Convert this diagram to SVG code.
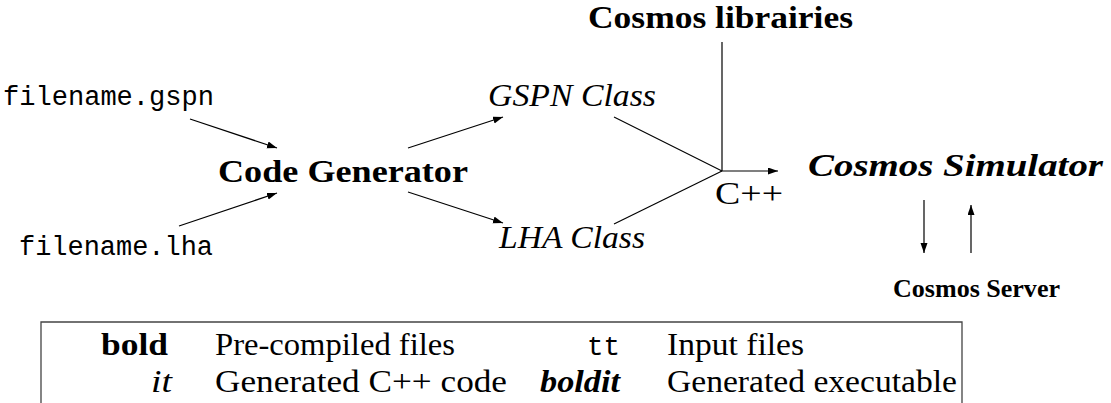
<svg xmlns="http://www.w3.org/2000/svg" width="1111" height="403" viewBox="0 0 1111 403">
<defs>
<marker id="arr" markerUnits="userSpaceOnUse" markerWidth="11" markerHeight="8" refX="10" refY="3.5" orient="auto">
<path d="M0,0 L10,3.5 L0,7 z" fill="#000"/>
</marker>
<style>
text{font-family:"Liberation Serif","Times New Roman",serif;font-size:32px;fill:#000}
.b{font-weight:bold}
.i{font-style:italic}
.bi{font-weight:bold;font-style:italic}
.tt{font-family:"Liberation Mono","Courier New",monospace;font-size:27px}
.e{text-anchor:end}
.ln{stroke:#000;stroke-width:1.2;fill:none}
.ar{stroke:#000;stroke-width:1.2;fill:none;marker-end:url(#arr)}
.bx{stroke:#444;stroke-width:1.3;fill:none}
</style>
</defs>
<rect width="1111" height="403" fill="#fff"/>
<g id="connectors">
<path class="ar" d="M190,119 L277,148"/>
<path class="ar" d="M179,226 L277,193"/>
<path class="ar" d="M408,148 L503,117"/>
<path class="ar" d="M408,192 L503,223"/>
<path class="ln" d="M614,117 L722,171"/>
<path class="ln" d="M614,224 L722,171"/>
<path class="ln" stroke="#333" d="M722,42 L722,171"/>
<path class="ar" d="M722,171 L778,171"/>
<path class="ar" d="M924,200 L924,253"/>
<path class="ar" d="M971,253 L971,205"/>
</g>
<g id="libs"><text class="b" x="588" y="28" textLength="265" lengthAdjust="spacingAndGlyphs">Cosmos librairies</text></g>
<g id="gspnfile"><text class="tt" x="3" y="105" textLength="211" lengthAdjust="spacingAndGlyphs">filename.gspn</text></g>
<g id="lhafile"><text class="tt" x="19" y="255" textLength="194" lengthAdjust="spacingAndGlyphs">filename.lha</text></g>
<g id="codegen"><text class="b" x="218" y="182" textLength="250" lengthAdjust="spacingAndGlyphs">Code Generator</text></g>
<g id="gspnclass"><text class="i" x="488" y="106" textLength="168" lengthAdjust="spacingAndGlyphs">GSPN Class</text></g>
<g id="lhaclass"><text class="i" x="499" y="248" textLength="146" lengthAdjust="spacingAndGlyphs">LHA Class</text></g>
<g id="cpp"><text x="715" y="204" textLength="68" lengthAdjust="spacingAndGlyphs">C++</text></g>
<g id="simulator"><text class="bi" x="808" y="176" textLength="295" lengthAdjust="spacingAndGlyphs">Cosmos Simulator</text></g>
<g id="server"><text class="b" x="893" y="297" style="font-size:25px" textLength="167" lengthAdjust="spacingAndGlyphs">Cosmos Server</text></g>
<g id="legend">
<path class="bx" d="M41,404 L41,322 L962,322 L962,404"/>
<text class="b e" x="168" y="355" textLength="67" lengthAdjust="spacingAndGlyphs">bold</text>
<text x="215" y="355" textLength="240" lengthAdjust="spacingAndGlyphs">Pre-compiled files</text>
<text class="tt e" x="620" y="355" textLength="33" lengthAdjust="spacingAndGlyphs">tt</text>
<text x="667" y="355" textLength="137" lengthAdjust="spacingAndGlyphs">Input files</text>
<text class="i e" x="172" y="392" textLength="21" lengthAdjust="spacingAndGlyphs">it</text>
<text x="215" y="392" textLength="292" lengthAdjust="spacingAndGlyphs">Generated C++ code</text>
<text class="bi e" x="620" y="392" textLength="80" lengthAdjust="spacingAndGlyphs">boldit</text>
<text x="667" y="392" textLength="290" lengthAdjust="spacingAndGlyphs">Generated executable</text>
</g>
</svg>
